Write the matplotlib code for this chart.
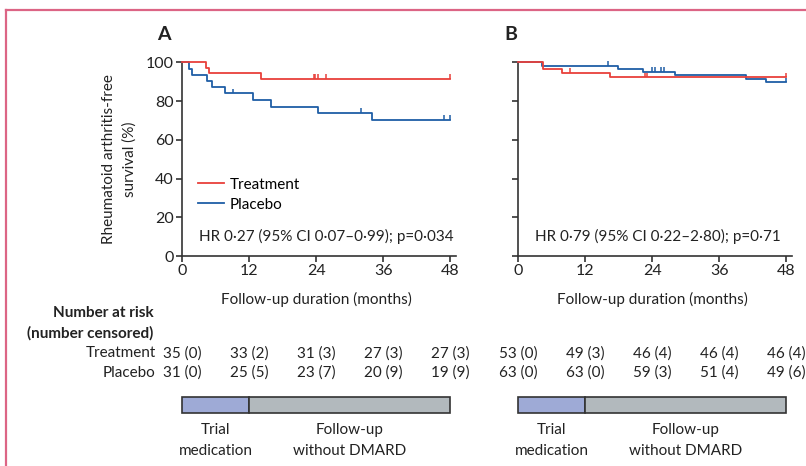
import numpy as np
import matplotlib
matplotlib.use('Agg')
import matplotlib.pyplot as plt
from matplotlib.patches import Rectangle
from matplotlib.lines import Line2D

plt.rcParams['font.family'] = ['Lato', 'DejaVu Sans']
plt.rcParams['font.size'] = 11

# Kaplan-Meier step data (months, % survival after each step)
a_trt_t = [0, 4.2, 4.8, 14.1]
a_trt_s = [100, 97.1, 94.3, 91.4]
a_trt_cens = [23.5, 23.8, 24.3, 25.7, 48]
a_pla_t = [0, 1.2, 1.8, 4.4, 5.3, 7.6, 12.6, 15.8, 24.3, 33.9]
a_pla_s = [100, 96.6, 93.4, 90.3, 87.0, 83.9, 80.4, 76.9, 73.8, 70.3]
a_pla_cens = [9.1, 32.0, 46.8, 48]

b_trt_t = [0, 4.4, 7.8, 16.5]
b_trt_s = [100, 96.3, 94.5, 92.2]
b_trt_cens = [9.3, 22.7, 23.0, 48]
b_pla_t = [0, 4.2, 17.8, 22.4, 28.0, 40.7, 44.3]
b_pla_s = [100, 98.3, 96.5, 95.1, 93.4, 91.5, 89.7]
b_pla_cens = [16.0, 24.0, 24.4, 25.6, 26.1, 48]

risk_months = [0, 12, 24, 36, 48]
a_trt_risk = ['35 (0)', '33 (2)', '31 (3)', '27 (3)', '27 (3)']
a_pla_risk = ['31 (0)', '25 (5)', '23 (7)', '20 (9)', '19 (9)']
b_trt_risk = ['53 (0)', '49 (3)', '46 (4)', '46 (4)', '46 (4)']
b_pla_risk = ['63 (0)', '63 (0)', '59 (3)', '51 (4)', '49 (6)']

hr_a = 'HR 0·27 (95% CI 0·07–0·99); p=0·034'
hr_b = 'HR 0·79 (95% CI 0·22–2·80); p=0·71'

end_month = 48
trial_end = 12
red = '#e8403a'
blue = '#1f5ea6'
dark = '#333333'
txt = '#222222'

fig = plt.figure(figsize=(8.06, 4.66), dpi=100)
ax_a = fig.add_axes([0.2262, 0.4506, 0.3395, 0.4157])
ax_b = fig.add_axes([0.6431, 0.4506, 0.3395, 0.4157])


def km(ax, t, s, cens, color):
    tt = list(t) + [end_month]
    ss = list(s) + [s[-1]]
    ax.step(tt, ss, where='post', color=color, lw=1.3, clip_on=False, zorder=3)
    # censor ticks sit on top of the curve
    idx = np.searchsorted(t, cens, side='right') - 1
    lev = np.array(s)[idx]
    ax.vlines(cens, lev, lev + 2.4, color=color, lw=1.1, clip_on=False, zorder=3)


panels = [
    (ax_a, 'A', -3.3, (a_trt_t, a_trt_s, a_trt_cens), (a_pla_t, a_pla_s, a_pla_cens),
     a_trt_risk, a_pla_risk, hr_a),
    (ax_b, 'B', -1.3, (b_trt_t, b_trt_s, b_trt_cens), (b_pla_t, b_pla_s, b_pla_cens),
     b_trt_risk, b_pla_risk, hr_b),
]

for ax, letter, letter_x, trt, pla, trt_risk, pla_risk, hr in panels:
    km(ax, *pla, blue)
    km(ax, *trt, red)
    ax.set_xlim(0, 49)
    ax.set_ylim(0, 100)
    ax.set_xticks(risk_months)
    ax.set_yticks([0, 20, 40, 60, 80, 100])
    for sp in ['top', 'right']:
        ax.spines[sp].set_visible(False)
    for sp in ['left', 'bottom']:
        ax.spines[sp].set_color(dark)
        ax.spines[sp].set_linewidth(1.2)
    ax.tick_params(direction='out', length=4, width=1.2, color=dark,
                   labelsize=11.5, labelcolor=txt, pad=2)
    tr = ax.get_xaxis_transform()
    ax.text(letter_x, 1.141, letter, transform=tr, fontsize=14, fontweight='bold',
            ha='center', va='center', color=txt)
    ax.text(24, -0.222, 'Follow-up duration (months)', transform=tr,
            ha='center', va='center', fontsize=11, color=txt)
    ax.text(2.9, 10, hr, ha='left', va='center', fontsize=11, color=txt)

    for m, r1, r2 in zip(risk_months, trt_risk, pla_risk):
        ax.text(m, -0.501, r1, transform=tr, ha='center', va='center',
                fontsize=11, color=txt)
        ax.text(m, -0.604, r2, transform=tr, ha='center', va='center',
                fontsize=11, color=txt)

    # treatment period bar
    ax.add_patch(Rectangle((0, -0.811), trial_end, 0.083, transform=tr,
                           facecolor='#9eaad6', edgecolor=dark, lw=1.2, clip_on=False))
    ax.add_patch(Rectangle((trial_end, -0.811), end_month - trial_end, 0.083, transform=tr,
                           facecolor='#b2b9bd', edgecolor=dark, lw=1.2, clip_on=False))
    ax.text(trial_end / 2, -0.953, 'Trial\nmedication', transform=tr, ha='center',
            va='center', fontsize=11, color=txt, linespacing=1.65)
    ax.text((trial_end + end_month) / 2, -0.953, 'Follow-up\nwithout DMARD', transform=tr,
            ha='center', va='center', fontsize=11, color=txt, linespacing=1.65)

ax_b.set_yticklabels([])

ax_a.set_ylabel('Rheumatoid arthritis-free\nsurvival (%)', fontsize=11,
                color=txt, labelpad=7, linespacing=1.55)

tr_a = ax_a.get_xaxis_transform()
ax_a.text(-5.1, -0.294, 'Number at risk', transform=tr_a, ha='right', va='center',
          fontsize=11, fontweight='bold', color=txt)
ax_a.text(-5.1, -0.398, '(number censored)', transform=tr_a, ha='right', va='center',
          fontsize=11, fontweight='bold', color=txt)
ax_a.text(-4.8, -0.501, 'Treatment', transform=tr_a, ha='right', va='center',
          fontsize=11, color=txt)
ax_a.text(-4.8, -0.604, 'Placebo', transform=tr_a, ha='right', va='center',
          fontsize=11, color=txt)

handles = [Line2D([], [], color=red, lw=1.3), Line2D([], [], color=blue, lw=1.3)]
ax_a.legend(handles, ['Treatment', 'Placebo'], loc='upper left',
            bbox_to_anchor=(0.057, 0.405), frameon=False, fontsize=11,
            handlelength=1.7, handletextpad=0.4, labelspacing=0.4,
            borderaxespad=0, borderpad=0)

# pink frame of the figure panel
fig.add_artist(Line2D([0.0074, 0.0074], [0, 0.9785], color='#dc6585', lw=1.6))
fig.add_artist(Line2D([0.0074, 1], [0.9785, 0.9785], color='#dc6585', lw=1.6))

fig.savefig('out.png', dpi=100)
